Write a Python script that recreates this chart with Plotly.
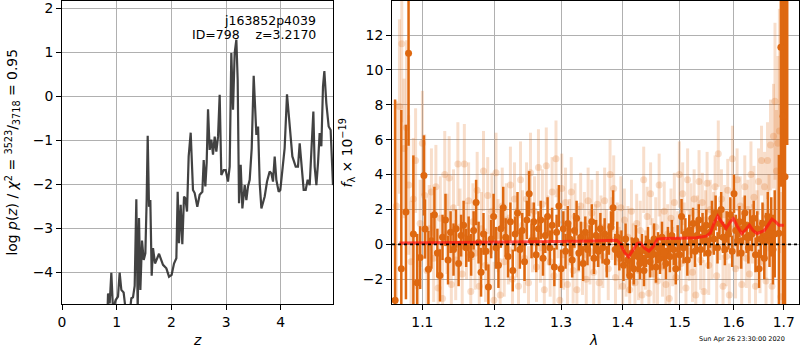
import plotly.graph_objects as go

# ---------------- left panel: log p(z) ----------------
z_grid = [0.829, 0.842, 0.872, 0.902, 0.933, 0.981, 1.024, 1.054, 1.085, 1.127, 1.164, 1.237,
          1.268, 1.298, 1.329, 1.359, 1.384, 1.408, 1.433, 1.463, 1.494, 1.524, 1.548, 1.567,
          1.591, 1.615, 1.640, 1.664, 1.701, 1.774, 1.847, 1.908, 1.957, 2.005, 2.048, 2.091,
          2.115, 2.139, 2.170, 2.200, 2.231, 2.255, 2.286, 2.316, 2.353, 2.395, 2.426, 2.474,
          2.517, 2.566, 2.591, 2.621, 2.645, 2.670, 2.700, 2.731, 2.761, 2.792, 2.822, 2.853,
          2.883, 2.913, 2.956, 2.993, 3.035, 3.066, 3.096, 3.127, 3.157, 3.188, 3.212, 3.237,
          3.267, 3.298, 3.341, 3.371, 3.401, 3.432, 3.469, 3.505, 3.554, 3.585, 3.615, 3.646,
          3.706, 3.749, 3.797, 3.828, 3.858, 3.889, 3.919, 3.962, 3.992, 4.029, 4.071, 4.114,
          4.163, 4.212, 4.273, 4.315, 4.346, 4.376, 4.419, 4.456, 4.492, 4.529, 4.566, 4.596,
          4.620, 4.651, 4.681, 4.711, 4.742, 4.772, 4.797, 4.833, 4.876, 4.912, 4.955]
log_pz = [-5.0, -4.48, -4.71, -4.01, -4.86, -4.63, -4.55, -4.01, -4.40, -4.46, -4.86, -4.93,
          -4.59, -4.57, -4.31, -2.34, -4.86, -2.77, -4.40, -3.28, -3.72, -3.57, -2.36, -0.90,
          -2.51, -2.36, -4.08, -3.45, -3.80, -3.58, -3.83, -3.91, -4.10, -4.06, -3.80, -3.68,
          -2.17, -3.34, -2.47, -3.36, -2.28, -2.32, -2.62, -1.37, -0.83, -2.13, -2.20, -2.51,
          -2.24, -2.17, -1.45, -2.05, -1.52, -0.30, -1.22, -0.99, -1.33, -0.92, -1.26, -0.92,
          0.03, -1.79, -1.68, -1.68, -1.94, -1.60, 0.98, -0.31, 0.98, 1.28, 0.37, -2.43,
          -1.56, -2.55, -2.02, -2.36, -2.05, -1.90, -1.18, 0.46, -0.88, -0.69, -1.98, -2.55,
          -2.28, -1.94, -1.71, -1.75, -1.94, -1.37, -1.90, -2.17, -2.13, -1.68, -1.18, 0.04,
          -0.69, -1.37, -1.60, -1.60, -1.07, -1.49, -2.13, -2.13, -1.90, -2.02, -1.22, -0.35,
          -1.60, -2.02, -1.52, -0.84, -1.14, 0.22, 0.57, -0.16, -0.69, -0.77, -2.02]

# ---------------- right panel: spectrum ----------------
# light points (individual spectra)
lam_light = [1.066, 1.070, 1.073, 1.076, 1.079, 1.082, 1.085, 1.088, 1.091, 1.094, 1.097, 1.100,
             1.103, 1.106, 1.109, 1.112, 1.115, 1.118, 1.121, 1.124, 1.127, 1.130, 1.133, 1.136,
             1.139, 1.142, 1.145, 1.148, 1.151, 1.154, 1.157, 1.160, 1.163, 1.166, 1.169, 1.172,
             1.175, 1.178, 1.181, 1.184, 1.187, 1.190, 1.193, 1.196, 1.199, 1.202, 1.205, 1.208,
             1.211, 1.214, 1.217, 1.220, 1.223, 1.226, 1.229, 1.232, 1.235, 1.238, 1.241, 1.244,
             1.247, 1.250, 1.253, 1.256, 1.259, 1.262, 1.265, 1.268, 1.271, 1.274, 1.277, 1.280,
             1.283, 1.286, 1.289, 1.292, 1.295, 1.298, 1.301, 1.304, 1.307, 1.310, 1.313, 1.316,
             1.319, 1.322, 1.325, 1.328, 1.331, 1.334, 1.337, 1.340, 1.343, 1.346, 1.349, 1.352,
             1.355, 1.358, 1.361, 1.364, 1.367, 1.370, 1.373, 1.376, 1.379, 1.382, 1.385, 1.388,
             1.391, 1.394, 1.397, 1.400, 1.403, 1.406, 1.409, 1.412, 1.415, 1.418, 1.421, 1.424,
             1.427, 1.430, 1.433, 1.436, 1.439, 1.442, 1.445, 1.448, 1.451, 1.454, 1.457, 1.460,
             1.463, 1.466, 1.469, 1.472, 1.475, 1.478, 1.481, 1.484, 1.487, 1.490, 1.493, 1.496,
             1.499, 1.502, 1.505, 1.508, 1.511, 1.514, 1.517, 1.520, 1.523, 1.526, 1.529, 1.532,
             1.535, 1.538, 1.541, 1.544, 1.547, 1.550, 1.553, 1.556, 1.559, 1.562, 1.565, 1.568,
             1.571, 1.574, 1.577, 1.580, 1.583, 1.586, 1.589, 1.592, 1.595, 1.598, 1.601, 1.604,
             1.607, 1.610, 1.613, 1.616, 1.619, 1.622, 1.625, 1.628, 1.631, 1.634, 1.637, 1.640,
             1.643, 1.646, 1.649, 1.652, 1.655, 1.658, 1.661, 1.664, 1.667, 1.670, 1.673, 1.676,
             1.679, 1.682, 1.685, 1.688, 1.691, 1.694]
flux_light = [2.2, 7.9, 11.5, 5.5, 6.7, 3.4, -1.0, 2.6, 4.8, -2.4, 1.2, 5.8,
              2.8, -1.5, 0.9, 3.0, -0.8, 3.3, -2.5, 1.5, -3.1, 4.0, 0.6, 3.8,
              -2.3, 2.1, -0.9, 4.6, 1.0, -1.7, 4.6, 0.2, 2.5, -2.7, 1.3, -0.5,
              3.1, -2.4, 0.9, 4.2, -1.2, 2.8, -0.4, 1.9, -3.2, 4.1, 0.5, -2.9,
              2.2, -1.0, 1.4, -0.3, 3.4, -2.0, 2.6, 0.1, -2.4, 3.7, 1.1, -0.8,
              2.6, -2.2, 4.1, 0.4, 1.9, -1.3, 4.4, -0.2, 2.3, -2.6, 4.5, 0.8,
              -1.0, 3.0, -1.8, 4.9, 1.2, -3.2, 3.2, -0.6, 2.4, -2.3, 0.7, 3.0,
              -1.5, 1.6, -2.6, 0.3, 2.2, -1.0, 1.1, -2.0, 2.5, -0.4, 1.8, -1.6,
              0.5, 2.3, -2.2, 1.0, -0.7, 2.5, 0.2, -1.4, 4.0, 0.9, 3.2, -1.9,
              0.6, -0.8, 2.1, -2.4, 1.4, -1.2, 0.4, -2.6, 1.9, -0.6, -2.2, 1.2,
              -1.5, 0.8, -2.9, 3.7, -0.9, 1.6, -2.8, 2.9, -0.2, -1.7, 1.0, -2.1,
              3.4, 0.3, -1.3, 1.9, -2.3, 0.6, -3.1, 1.5, -0.7, 2.4, -1.9, 0.2,
              4.0, -1.1, 2.9, 0.7, -2.5, 3.7, -0.4, 1.8, -1.6, 2.6, -2.9, 1.1,
              3.6, -0.9, 2.4, -2.7, 1.4, 3.5, -1.2, 2.0, -0.3, 1.3, 3.3, -1.8,
              5.2, 0.8, 2.6, -2.4, 1.7, -0.7, 3.1, -2.9, 0.9, 4.9, 1.5, -1.4,
              3.7, 0.3, 2.2, -2.3, 1.0, 3.3, -0.8, 2.0, -1.7, 4.0, 0.6, 2.7,
              -2.4, 1.3, 3.6, -1.0, 4.8, 0.4, 3.3, -2.1, 4.8, 1.8, 5.7, -2.4,
              6.2, 8.2, 4.2, 5.8, 6.5, -3.0]
err_light = [6.0, 5.0, 4.5, 4.0, 5.0, 4.0, 3.5, 3.5, 3.0, 3.0, 2.5, 3.0,
             3.5, 2.5, 2.5, 2.5, 2.5, 2.4, 2.3, 2.4, 2.3, 2.5, 2.3, 2.4,
             2.2, 2.2, 2.3, 2.4, 2.2, 2.2, 2.3, 2.2, 2.2, 2.3, 2.2, 2.1,
             2.2, 2.2, 2.1, 2.3, 2.1, 2.2, 2.1, 2.2, 2.2, 2.3, 2.1, 2.1,
             2.2, 2.0, 2.1, 2.0, 2.2, 2.1, 2.1, 2.0, 2.1, 2.2, 2.0, 2.0,
             2.1, 2.1, 2.3, 2.0, 2.0, 2.0, 2.2, 2.0, 2.0, 2.0, 2.2, 2.0,
             2.0, 2.0, 2.0, 2.2, 2.0, 2.1, 2.0, 2.0, 2.0, 2.0, 1.9, 2.0,
             1.9, 1.9, 2.0, 1.9, 1.9, 1.9, 1.9, 1.9, 1.9, 1.9, 1.9, 1.9,
             1.8, 1.9, 1.9, 1.8, 1.8, 1.9, 1.8, 1.8, 2.0, 1.8, 1.9, 1.8,
             1.8, 1.8, 1.8, 1.8, 1.8, 1.8, 1.8, 1.8, 1.8, 1.8, 1.8, 1.7,
             1.7, 1.7, 1.8, 1.9, 1.7, 1.7, 1.8, 1.8, 1.7, 1.7, 1.7, 1.7,
             1.8, 1.7, 1.7, 1.7, 1.7, 1.7, 1.8, 1.7, 1.7, 1.7, 1.7, 1.7,
             1.9, 1.7, 1.8, 1.7, 1.7, 1.8, 1.7, 1.7, 1.7, 1.7, 1.8, 1.7,
             1.8, 1.7, 1.7, 1.8, 1.7, 1.8, 1.7, 1.7, 1.7, 1.7, 1.8, 1.7,
             1.9, 1.7, 1.7, 1.8, 1.7, 1.7, 1.8, 1.8, 1.7, 1.9, 1.7, 1.7,
             1.8, 1.7, 1.7, 1.8, 1.7, 1.8, 1.7, 1.7, 1.7, 1.9, 1.7, 1.8,
             1.8, 1.8, 1.9, 1.8, 2.0, 1.9, 2.0, 2.0, 2.2, 2.2, 2.6, 2.5,
             3.0, 4.5, 3.5, 5.0, 7.0, 6.0]

# dark points (combined spectrum)
lam_dark = [1.0644, 1.0724, 1.0784, 1.0818, 1.0881, 1.0930, 1.0970, 1.1020, 1.1035, 1.1080,
            1.1120, 1.1160, 1.1200, 1.1235, 1.1270, 1.1310, 1.1345, 1.1380, 1.1420, 1.1455,
            1.1490, 1.1525, 1.1560, 1.1595, 1.1630, 1.1665, 1.1700, 1.1735, 1.1770, 1.1805,
            1.1840, 1.1875, 1.1910, 1.1950, 1.1985, 1.2020, 1.2055, 1.2090, 1.2125, 1.2160,
            1.2195, 1.2230, 1.2265, 1.2300, 1.2335, 1.2370, 1.2405, 1.2440, 1.2475, 1.2510,
            1.2545, 1.2580, 1.2615, 1.2650, 1.2685, 1.2720, 1.2755, 1.2790, 1.2825, 1.2860,
            1.2895, 1.2930, 1.2965, 1.3000, 1.3035, 1.3070, 1.3105, 1.3140, 1.3175, 1.3210,
            1.3245, 1.3280, 1.3315, 1.3350, 1.3385, 1.3420, 1.3455, 1.3490, 1.3525, 1.3560,
            1.3595, 1.3630, 1.3665, 1.3700, 1.3735, 1.3770, 1.3805, 1.3840, 1.3875, 1.3910,
            1.3945, 1.3980, 1.4015, 1.4050, 1.4085, 1.4120, 1.4155, 1.4190, 1.4225, 1.4260,
            1.4295, 1.4330, 1.4365, 1.4400, 1.4435, 1.4470, 1.4505, 1.4540, 1.4575, 1.4610,
            1.4645, 1.4680, 1.4715, 1.4750, 1.4785, 1.4820, 1.4855, 1.4890, 1.4925, 1.4960,
            1.4995, 1.5030, 1.5065, 1.5100, 1.5135, 1.5170, 1.5205, 1.5240, 1.5275, 1.5310,
            1.5345, 1.5380, 1.5415, 1.5450, 1.5485, 1.5520, 1.5555, 1.5590, 1.5625, 1.5660,
            1.5695, 1.5730, 1.5765, 1.5800, 1.5835, 1.5870, 1.5905, 1.5940, 1.5975, 1.6010,
            1.6045, 1.6080, 1.6115, 1.6150, 1.6185, 1.6220, 1.6255, 1.6290, 1.6325, 1.6360,
            1.6395, 1.6430, 1.6465, 1.6500, 1.6535, 1.6570, 1.6605, 1.6640, 1.6675, 1.6710,
            1.6745, 1.6780, 1.6815, 1.6900, 1.6940, 1.6985, 1.7025, 1.7070]
flux_dark = [-3.2, -1.4, 1.85, 10.95, 0.6, -2.2, -0.76, 3.95, 0.88, -1.43,
             0.2, 1.7, -0.5, -1.78, 0.4, 1.4, -0.9, 0.7, -0.3, 0.9,
             -1.1, 0.5, 1.1, -0.2, 0.3, -0.6, 0.8, 2.4, 0.1, -1.6,
             0.6, -0.4, -2.45, 0.3, 1.6, -0.2, -1.2, 0.9, 2.1, 0.4,
             -0.7, 1.3, -1.5, 0.6, 1.8, -0.3, 0.8, -1.0, 1.4, 2.9,
             0.2, 1.3, -0.6, 0.9, 1.4, -0.8, 0.5, 1.6, -0.2, 1.1,
             -1.3, 0.7, 2.2, -1.4, 0.9, -0.4, 1.2, 0.3, -0.9, 0.8,
             1.5, -0.5, 0.4, -1.1, 0.7, -0.3, 0.2, 1.3, -0.8, 0.5,
             -0.4, 0.9, -0.2, 0.6, -1.0, 0.3, 1.0, 2.1, -0.3, 0.4,
             -0.6, -0.1, -1.2, 0.3, -0.9, -1.8, -0.5, -1.4, 0.2, -0.7,
             -1.1, -0.3, -1.5, -0.4, 0.1, -1.0, -0.6, 0.3, -1.3, -0.2,
             -0.8, 0.4, -0.5, -1.1, 0.1, -0.7, 0.5, -0.3, -1.4, 0.2,
             -0.6, 1.6, -0.2, 0.6, -0.9, 0.8, 0.1, 1.2, -0.4, 0.5,
             1.4, -0.3, 0.9, 0.2, 1.1, -0.5, 0.7, 1.5, 0.3, 1.8,
             -0.2, 1.2, 2.0, 0.4, -0.3, 1.0, 0.6, 1.7, -0.4, 2.9,
             0.8, 0.2, 1.3, -0.5, 0.9, 1.8, 0.4, -0.2, 1.1, 0.6,
             1.5, -0.6, 0.9, -1.4, 0.3, 1.2, -0.8, 0.5, 1.6, 0.2,
             1.0, -0.3, 0.6, 0.63, 11.3, 7.35, 3.87, 14.5]
err_dark = [11.5, 9.1, 5.0, 5.3, 4.5, 2.8, 1.8, 2.3, 1.7, 2.2,
            1.6, 1.6, 1.4, 1.5, 1.3, 1.5, 1.4, 1.2, 1.5, 1.1,
            1.3, 1.2, 1.4, 1.1, 1.3, 1.2, 1.1, 1.3, 1.2, 1.4,
            1.2, 1.1, 1.3, 1.1, 1.3, 1.2, 1.3, 1.1, 1.2, 1.1,
            1.2, 1.1, 1.2, 1.0, 1.2, 1.1, 1.0, 1.1, 1.1, 1.3,
            1.0, 1.1, 1.0, 1.0, 1.1, 1.0, 1.0, 1.1, 1.0, 1.0,
            1.1, 1.0, 1.2, 1.1, 1.0, 1.0, 1.0, 1.0, 1.0, 1.0,
            1.0, 1.0, 0.9, 1.0, 0.9, 0.9, 0.9, 1.0, 0.9, 0.9,
            0.9, 0.9, 0.9, 0.9, 0.9, 0.9, 0.9, 1.0, 0.9, 0.9,
            0.9, 0.9, 0.9, 0.9, 0.9, 1.0, 0.9, 0.9, 0.9, 0.9,
            0.9, 0.9, 0.9, 0.9, 0.9, 0.9, 0.9, 0.9, 0.9, 0.9,
            0.9, 0.9, 0.9, 0.9, 0.9, 0.9, 0.9, 0.9, 0.9, 0.9,
            0.9, 1.0, 0.9, 0.9, 0.9, 0.9, 0.9, 0.9, 0.9, 0.9,
            0.9, 0.9, 0.9, 0.9, 0.9, 0.9, 0.9, 1.0, 0.9, 1.0,
            0.9, 0.9, 1.0, 0.9, 0.9, 0.9, 0.9, 1.0, 0.9, 1.1,
            0.9, 0.9, 0.9, 0.9, 0.9, 1.0, 0.9, 0.9, 0.9, 1.0,
            1.0, 1.0, 1.0, 1.1, 1.1, 1.2, 1.2, 1.3, 1.4, 1.5,
            1.7, 2.0, 2.5, 4.5, 8.0, 11.0, 12.0, 8.8]

# model (red line)
lam_model = [1.070, 1.150, 1.250, 1.300, 1.350, 1.390, 1.396, 1.403, 1.410, 1.418, 1.425,
             1.430, 1.437, 1.445, 1.452, 1.460, 1.470, 1.500, 1.530, 1.548, 1.556, 1.563,
             1.570, 1.578, 1.586, 1.594, 1.600, 1.608, 1.616, 1.624, 1.631, 1.638, 1.646,
             1.653, 1.661, 1.668, 1.676, 1.683, 1.690, 1.700]
flux_model = [0.08, 0.1, 0.13, 0.16, 0.19, 0.24, 0.05, -0.45, -0.72, -0.3, 0.05,
              0.08, -0.2, -0.38, -0.15, 0.3, 0.33, 0.35, 0.38, 0.47, 0.65, 1.2,
              1.62, 1.25, 0.92, 1.3, 1.48, 1.0, 0.62, 0.85, 1.1, 0.8, 0.62,
              0.7, 0.8, 1.1, 1.45, 1.3, 1.1, 1.1]

title_id = "j163852p4039"
title_sub = "ID=798\u00a0\u00a0\u00a0\u00a0z=3.2170"
timestamp = "Sun Apr 26 23:30:00 2020"

ORANGE = "rgb(222,104,16)"
ORANGE_LIGHT = "rgba(222,104,16,0.22)"
FONT = "DejaVu Sans"

fig = go.Figure()

fig.add_trace(go.Scatter(x=z_grid, y=log_pz, mode="lines",
                         line=dict(color="rgba(40,40,40,0.88)", width=2.2),
                         xaxis="x", yaxis="y", showlegend=False, hoverinfo="skip"))

fig.add_trace(go.Scatter(x=lam_light, y=flux_light, mode="markers",
                         marker=dict(size=7, color=ORANGE_LIGHT, line=dict(width=0)),
                         error_y=dict(type="data", array=err_light, color=ORANGE_LIGHT,
                                      thickness=3, width=0),
                         xaxis="x2", yaxis="y2", showlegend=False, hoverinfo="skip"))

fig.add_trace(go.Scatter(x=lam_dark, y=flux_dark, mode="markers",
                         marker=dict(size=7, color=ORANGE, line=dict(width=0)),
                         error_y=dict(type="data", array=err_dark, color=ORANGE,
                                      thickness=2.5, width=0),
                         xaxis="x2", yaxis="y2", showlegend=False, hoverinfo="skip"))

fig.add_trace(go.Scatter(x=lam_model, y=flux_model, mode="lines",
                         line=dict(color="rgba(255,20,20,0.72)", width=3),
                         xaxis="x2", yaxis="y2", showlegend=False, hoverinfo="skip"))

# dotted zero line across right panel
fig.add_shape(type="line", xref="x2 domain", yref="y2", x0=0, x1=1, y0=0, y1=0,
              line=dict(color="black", width=1.6, dash="dot"), layer="above")

axis_common = dict(showgrid=True, gridcolor="#b0b0b0", gridwidth=1, zeroline=False,
                   showline=True, mirror=True, linecolor="black", linewidth=1,
                   ticks="outside", ticklen=5, tickwidth=1, tickcolor="black",
                   ticklabeloverflow="allow",
                   tickfont=dict(family=FONT, size=13.9, color="black"))

fig.update_layout(
    width=800, height=350,
    margin=dict(l=62, r=1, t=1, b=46, autoexpand=False),
    paper_bgcolor="white", plot_bgcolor="white",
    font=dict(family=FONT, color="black"),
    xaxis=dict(domain=[0, 0.3677], range=[0, 4.955], tickvals=[0, 1, 2, 3, 4],
               anchor="y", **axis_common),
    yaxis=dict(domain=[0, 1], range=[-4.72, 2.16], tickvals=[-4, -3, -2, -1, 0, 1, 2],
               anchor="x", **axis_common),
    xaxis2=dict(domain=[0.4478, 1], type="log", range=[0.0255, 0.2384],
                tickvals=[1.1, 1.2, 1.3, 1.4, 1.5, 1.6, 1.7],
                ticktext=["1.1", "1.2", "1.3", "1.4", "1.5", "1.6", "1.7"],
                anchor="y2", **axis_common),
    yaxis2=dict(domain=[0, 1], range=[-3.42, 13.95], tickvals=[-2, 0, 2, 4, 6, 8, 10, 12],
                anchor="x2", **axis_common),
)

ann = [
    dict(text=title_id, x=0.3474, y=0.937, xref="paper", yref="paper",
         xanchor="right", yanchor="middle", showarrow=False,
         font=dict(family=FONT, size=12.5, color="black")),
    dict(text=title_sub, x=0.3474, y=0.888, xref="paper", yref="paper",
         xanchor="right", yanchor="middle", showarrow=False,
         font=dict(family=FONT, size=12.5, color="black")),
    dict(text="log <i>p</i>(<i>z</i>) / <i>χ</i><sup>2</sup> = <sup>3523</sup>/<sub>3718</sub> = 0.95",
         x=-0.0678, y=0.5, xref="paper", yref="paper", textangle=-90,
         xanchor="center", yanchor="middle", showarrow=False,
         font=dict(family=FONT, size=13.9, color="black")),
    dict(text="<i>f</i><sub>λ</sub> × 10<sup>−19</sup>",
         x=0.3867, y=0.5, xref="paper", yref="paper", textangle=-90,
         xanchor="center", yanchor="middle", showarrow=False,
         font=dict(family=FONT, size=13.9, color="black")),
    dict(text="<i>z</i>", x=0.1832, y=-0.119, xref="paper", yref="paper",
         xanchor="center", yanchor="middle", showarrow=False,
         font=dict(family=FONT, size=13.9, color="black")),
    dict(text="<i>λ</i>", x=0.7218, y=-0.119, xref="paper", yref="paper",
         xanchor="center", yanchor="middle", showarrow=False,
         font=dict(family=FONT, size=13.9, color="black")),
    dict(text=timestamp, x=0.9227, y=-0.116, xref="paper", yref="paper",
         xanchor="center", yanchor="middle", showarrow=False,
         font=dict(family=FONT, size=6.5, color="black")),
]
fig.update_layout(annotations=ann)

fig.write_html("out.html", config={"displayModeBar": False},
               post_script="document.body.style.margin='0';document.body.style.overflow='hidden';")
